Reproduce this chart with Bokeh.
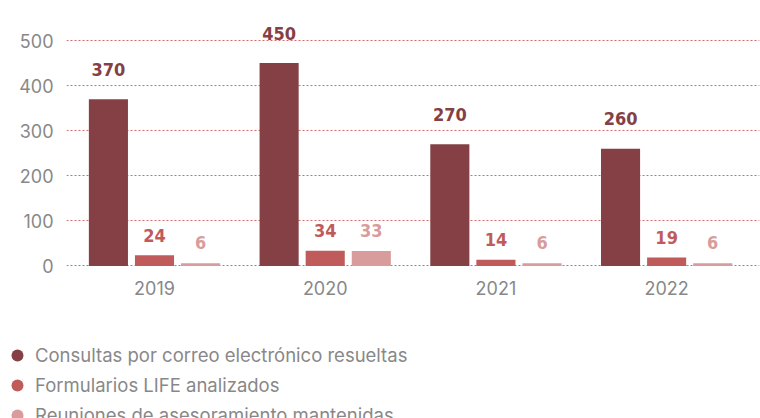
from bokeh.plotting import figure
from bokeh.layouts import column
from bokeh.models import ColumnDataSource, Legend, LegendItem, FixedTicker, Range1d
from bokeh.core.properties import value
from bokeh.embed import file_html
from bokeh.resources import INLINE

years = ["2019", "2020", "2021", "2022"]
consultas = [370, 450, 270, 260]
formularios = [24, 34, 14, 19]
reuniones = [6, 33, 6, 6]
series_names = ["Consultas por correo electrónico resueltas",
                "Formularios LIFE analizados",
                "Reuniones de asesoramiento mantenidas"]
colors = ["#844044", "#c05b5b", "#d89c9c"]
y_ticks = [0, 100, 200, 300, 400, 500]

p = figure(width=760, height=300, output_backend="svg", toolbar_location=None,
           x_range=Range1d(-0.5155, 3.544), y_range=Range1d(-10, 588.7),
           min_border_left=66, min_border_right=1, min_border_top=0, min_border_bottom=30)
p.outline_line_color = None
p.background_fill_color = "white"
p.border_fill_color = "white"

xs = list(range(len(years)))
offsets = [-0.27, 0.0, 0.27]
label_offsets = [-30, -20, -21]
all_series = [consultas, formularios, reuniones]
for vals, off, col, loff in zip(all_series, offsets, colors, label_offsets):
    src = ColumnDataSource(dict(x=[x + off for x in xs], top=vals,
                                lbl=[str(v) for v in vals]))
    p.vbar(x="x", top="top", bottom=0, width=0.229, source=src,
           fill_color=col, line_color=None)
    p.text(x="x", y="top", text="lbl", source=src, text_align="center",
           text_baseline="middle", y_offset=loff, text_color=col,
           text_font=value("DejaVu Sans Condensed"), text_font_style="bold",
           text_font_size="18px")

# axes
p.xaxis.ticker = FixedTicker(ticks=xs)
p.xaxis.major_label_overrides = {i: y for i, y in enumerate(years)}
p.yaxis.ticker = FixedTicker(ticks=y_ticks)
for ax in (p.xaxis[0], p.yaxis[0]):
    ax.axis_line_color = None
    ax.major_tick_line_color = None
    ax.minor_tick_line_color = None
    ax.major_tick_out = 0
    ax.major_tick_in = 0
    ax.minor_tick_out = 0
    ax.major_label_text_color = "#888888"
    ax.major_label_text_font = "Inter"
    ax.major_label_text_font_size = "18px"
p.xaxis.major_label_standoff = 10
p.yaxis.major_label_standoff = 13

p.xgrid.grid_line_color = None
p.ygrid.ticker = FixedTicker(ticks=y_ticks)
p.ygrid.grid_line_color = "#d9676b"
p.ygrid.grid_line_dash = "2 2"
p.ygrid.grid_line_width = 1

# legend figure below the chart
lg = figure(width=760, height=118, output_backend="svg", toolbar_location=None,
            x_range=Range1d(0, 1), y_range=Range1d(0, 1),
            min_border_left=0, min_border_right=0, min_border_top=0, min_border_bottom=0,
            x_axis_location=None, y_axis_location=None)
lg.frame_align = False
lg.outline_line_color = None
lg.grid.visible = False
items = []
for name, col in zip(series_names, colors):
    r = lg.scatter(x=[-5], y=[-5], marker="circle", size=12, fill_color=col, line_color=None)
    items.append(LegendItem(label=name, renderers=[r]))
legend = Legend(items=items, location=(2, -12), orientation="vertical",
                label_text_font="Inter", label_text_font_size="18.5px",
                label_text_color="#888888", glyph_width=30, glyph_height=30,
                label_height=20, spacing=-4, label_standoff=3, padding=0, margin=0,
                border_line_color=None, background_fill_alpha=0)
lg.add_layout(legend, "center")

layout = column(p, lg, spacing=0)
open("out.html", "w").write(file_html(layout, INLINE))
